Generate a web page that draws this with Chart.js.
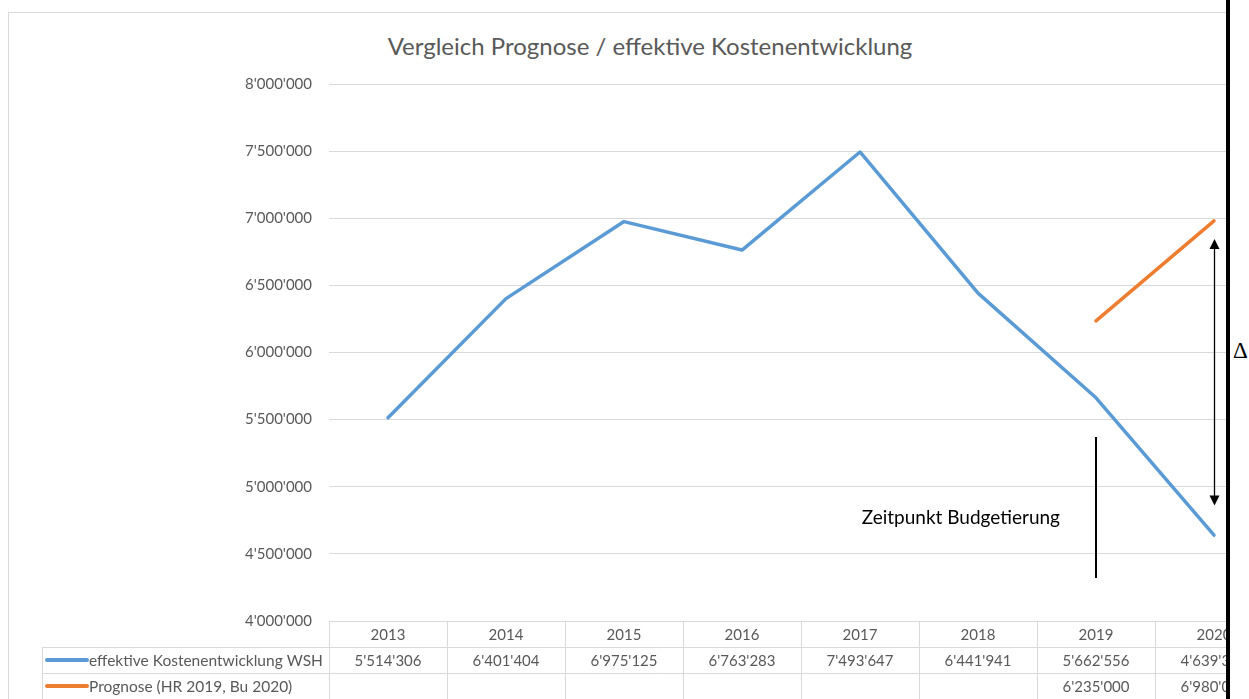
<!DOCTYPE html>
<html>
<head>
<meta charset="utf-8">
<script src="https://cdn.jsdelivr.net/npm/chart.js@4"></script>
<style>
  html, body { margin: 0; padding: 0; background: #fff; }
  body { width: 1249px; height: 699px; position: relative; overflow: hidden; font-family: Lato, sans-serif; }
  #clip { position: absolute; left: 0; top: 0; width: 1226px; height: 699px; overflow: hidden; }
  #frame { position: absolute; left: 8px; top: 12px; width: 1400px; height: 800px; border: 1px solid #d9d9d9; box-sizing: border-box; }
  #box { position: absolute; left: 0; top: 0; width: 1300px; height: 699px; }
  #title { position: absolute; left: 0; width: 1300px; top: 31px; line-height: 30px; text-align: center; font-size: 24px; color: #595959; }
  #bar { position: absolute; left: 1226px; top: 0; width: 4px; height: 699px; background: #000; }
  #delta { position: absolute; left: 1233px; top: 338px; font-family: "Liberation Serif", serif; font-size: 23px; color: #000; }
</style>
</head>
<body>
<div id="clip">
  <div id="frame"></div>
  <div id="title">Vergleich Prognose / effektive Kostenentwicklung</div>
  <div id="box"><canvas id="chart"></canvas></div>
</div>
<div id="bar"></div>
<div id="delta">Δ</div>
<script>
// Werte aus der Excel-Grafik
const jahre = ['2013', '2014', '2015', '2016', '2017', '2018', '2019', '2020'];
const effektiv = [5514306, 6401404, 6975125, 6763283, 7493647, 6441941, 5662556, 4639300];
const prognose = [null, null, null, null, null, null, 6235000, 6980000];
const serienNamen = ['effektive Kostenentwicklung WSH', 'Prognose (HR 2019, Bu 2020)'];
const yMin = 4000000;
const yMax = 8000000;
const yStep = 500000;

// Anmerkungen (in Datenkoordinaten)
const budgetLinie = { jahr: '2019', von: 5370000, bis: 4320000 };
const budgetText = { jahr: '2019', wert: 4770000, text: 'Zeitpunkt Budgetierung' };
const deltaPfeil = { jahr: '2020', von: 6845000, bis: 4860000 };

const blau = '#5b9bd5';
const orange = '#ed7d31';
const grau = '#595959';
const linien = '#d9d9d9';

const fmt = v => String(v).replace(/\B(?=(\d{3})+(?!\d))/g, "'");

const tabellePlugin = {
    id: 'datentabelle',
    afterDraw(chart) {
        const ctx = chart.ctx;
        const area = chart.chartArea;
        const xs = chart.scales.x;
        const colW = (area.right - area.left) / jahre.length;
        const rowH = 26;
        const top = area.bottom;
        const legLeft = 42;

        ctx.save();
        ctx.strokeStyle = linien;
        ctx.lineWidth = 1;
        ctx.beginPath();
        // horizontale Linien
        ctx.moveTo(area.left, Math.round(top) + 0.5);
        ctx.lineTo(area.right, Math.round(top) + 0.5);
        for (let r = 1; r <= 3; r++) {
            const y = Math.round(top + r * rowH) + 0.5;
            ctx.moveTo(legLeft, y);
            ctx.lineTo(area.right, y);
        }
        // vertikale Linien
        for (let i = 0; i <= jahre.length; i++) {
            const x = Math.round(area.left + i * colW) + 0.5;
            ctx.moveTo(x, top);
            ctx.lineTo(x, top + 3 * rowH);
        }
        ctx.moveTo(legLeft + 0.5, top + rowH);
        ctx.lineTo(legLeft + 0.5, top + 3 * rowH);
        ctx.stroke();

        ctx.fillStyle = grau;
        ctx.font = '15px Lato';
        ctx.textAlign = 'center';
        ctx.textBaseline = 'middle';
        jahre.forEach((j, i) => {
            const x = xs.getPixelForValue(i);
            ctx.fillText(j, x, top + rowH * 0.5 + 1);
            if (effektiv[i] != null) ctx.fillText(fmt(effektiv[i]), x, top + rowH * 1.5 + 1);
            if (prognose[i] != null) ctx.fillText(fmt(prognose[i]), x, top + rowH * 2.5 + 1);
        });

        // Legendenschlüssel
        ctx.font = '15.5px Lato';
        [blau, orange].forEach((c, k) => {
            const y = top + rowH * (1.5 + k);
            ctx.strokeStyle = c;
            ctx.lineWidth = 4;
            ctx.lineCap = 'round';
            ctx.beginPath();
            ctx.moveTo(47, y);
            ctx.lineTo(87, y);
            ctx.stroke();
            ctx.fillStyle = grau;
            ctx.textAlign = 'left';
            ctx.fillText(serienNamen[k], 89, y + 1);
        });
        ctx.restore();
    }
};

const anmerkungPlugin = {
    id: 'anmerkungen',
    afterDraw(chart) {
        const ctx = chart.ctx;
        const xs = chart.scales.x;
        const ys = chart.scales.y;
        ctx.save();
        ctx.strokeStyle = '#000';
        ctx.fillStyle = '#000';

        // Zeitpunkt Budgetierung
        const bx = Math.round(xs.getPixelForValue(jahre.indexOf(budgetLinie.jahr)));
        ctx.lineWidth = 2;
        ctx.beginPath();
        ctx.moveTo(bx, ys.getPixelForValue(budgetLinie.von));
        ctx.lineTo(bx, ys.getPixelForValue(budgetLinie.bis));
        ctx.stroke();

        ctx.font = '19px Lato';
        ctx.textAlign = 'right';
        ctx.textBaseline = 'middle';
        ctx.fillText(budgetText.text, bx - 36, ys.getPixelForValue(budgetText.wert));

        // Doppelpfeil Delta
        const ax = Math.round(xs.getPixelForValue(jahre.indexOf(deltaPfeil.jahr))) + 0.5;
        const y1 = ys.getPixelForValue(deltaPfeil.von);
        const y2 = ys.getPixelForValue(deltaPfeil.bis);
        const h = 10, w = 5;
        ctx.lineWidth = 1.3;
        ctx.beginPath();
        ctx.moveTo(ax, y1 + h - 1);
        ctx.lineTo(ax, y2 - h + 1);
        ctx.stroke();
        ctx.beginPath();
        ctx.moveTo(ax, y1);
        ctx.lineTo(ax - w, y1 + h);
        ctx.lineTo(ax + w, y1 + h);
        ctx.closePath();
        ctx.fill();
        ctx.beginPath();
        ctx.moveTo(ax, y2);
        ctx.lineTo(ax - w, y2 - h);
        ctx.lineTo(ax + w, y2 - h);
        ctx.closePath();
        ctx.fill();
        ctx.restore();
    }
};

new Chart(document.getElementById('chart'), {
    type: 'line',
    data: {
        labels: jahre,
        datasets: [{
            label: serienNamen[0],
            data: effektiv,
            borderColor: blau,
            borderWidth: 3.5,
            pointRadius: 0,
            tension: 0,
            borderCapStyle: 'round',
            borderJoinStyle: 'round'
        }, {
            label: serienNamen[1],
            data: prognose,
            borderColor: orange,
            borderWidth: 3.5,
            pointRadius: 0,
            tension: 0,
            spanGaps: false,
            borderCapStyle: 'round',
            borderJoinStyle: 'round'
        }]
    },
    options: {
        responsive: true,
        maintainAspectRatio: false,
        animation: false,
        layout: { padding: { left: 0, top: 84, right: 27, bottom: 78 } },
        plugins: {
            legend: { display: false },
            title: { display: false },
            tooltip: { enabled: false }
        },
        scales: {
            x: {
                type: 'category',
                display: false,
                offset: true
            },
            y: {
                min: yMin,
                max: yMax,
                afterFit(scale) { scale.width = 329; },
                ticks: {
                    stepSize: yStep,
                    color: grau,
                    padding: 17,
                    font: { family: 'Lato', size: 15 },
                    callback: v => fmt(v)
                },
                grid: { color: linien, lineWidth: 1, drawTicks: false },
                border: { display: false }
            }
        }
    },
    plugins: [tabellePlugin, anmerkungPlugin]
});
</script>
</body>
</html>
